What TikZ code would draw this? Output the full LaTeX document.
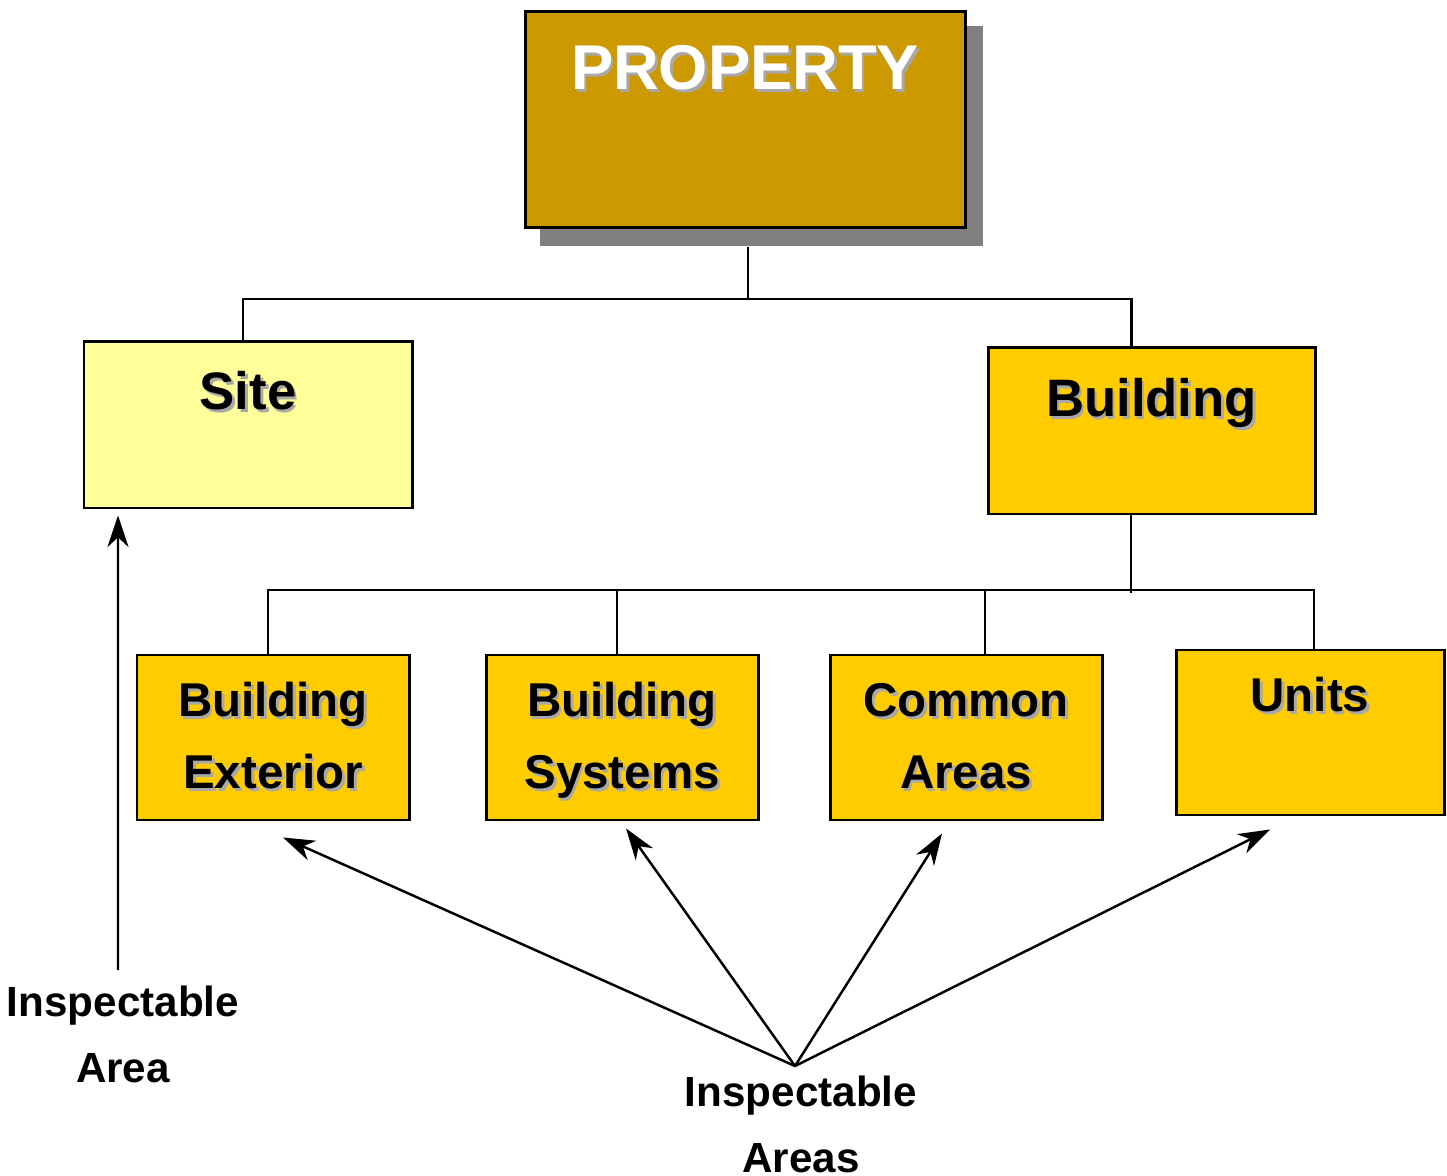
\documentclass[tikz,border=0pt]{standalone}
\usepackage{fontspec}
\setmainfont{Liberation Sans}
\usetikzlibrary{positioning,arrows.meta}
\definecolor{propgold}{HTML}{CC9900}
\definecolor{sitecream}{HTML}{FFFF99}
\definecolor{bldgyellow}{HTML}{FFCC00}
\definecolor{dropgray}{HTML}{808080}
\definecolor{textshade}{HTML}{A8A8A8}
\newcommand{\shadetext}[2][black]{\makebox[0pt][l]{\hspace{0.8pt}\raisebox{-0.8pt}{\textcolor{textshade}{#2}}}\textcolor{#1}{#2}}
\begin{document}
\begin{tikzpicture}[
	box/.style={draw, line width=0.85pt, inner sep=0pt, minimum width=#1, minimum height=1.65cm},
	boxlabel/.style={font=\bfseries\fontsize{13.5}{20.5}\selectfont, align=center, inner sep=0pt, anchor=base},
	arealabel/.style={font=\bfseries\fontsize{12}{18.5}\selectfont, align=center, inner sep=0pt, anchor=base},
	conn/.style={line width=0.7pt},
	pointer/.style={line width=0.7pt, -{Stealth[length=9pt, width=6pt, inset=2.8pt]}}
	]
	\useasboundingbox (0,0) rectangle (14.47,-11.76);
	\node [fill=dropgray, minimum width=4.43cm, minimum height=2.2cm, inner sep=0pt] (propshadow) at (7.615,-1.36) {};
	\node [box=4.40cm, minimum height=2.16cm, fill=propgold] (prop) at (7.45,-1.20) {};
	\node [box=3.28cm, minimum height=1.66cm, fill=sitecream] (site) at (2.48,-4.25) {};
	\node [box=3.27cm, minimum height=1.66cm, fill=bldgyellow] (bldg) at (11.515,-4.31) {};
	\node [box=2.72cm, fill=bldgyellow] (ext) at (2.73,-7.375) {};
	\node [box=2.72cm, fill=bldgyellow] (sys) at (6.22,-7.375) {};
	\node [box=2.72cm, fill=bldgyellow] (common) at (9.66,-7.375) {};
	\node [box=2.68cm, fill=bldgyellow] (units) at (13.10,-7.325) {};
	\node [boxlabel, font=\bfseries\fontsize{18}{22}\selectfont] (proptxt) at ([yshift=-0.79cm]prop.north) {\shadetext[white]{PROPERTY}};
	\node [boxlabel, font=\bfseries\fontsize{15}{20}\selectfont] (sitetxt) at ([yshift=-0.69cm]site.north) {\shadetext{Site}};
	\node [boxlabel, font=\bfseries\fontsize{15}{20}\selectfont] (bldgtxt) at ([yshift=-0.70cm]bldg.north) {\shadetext{Building}};
	\node [boxlabel] (exttxt) at ([yshift=-1.35cm]ext.north) {\shadetext{Building}\\\shadetext{Exterior}};
	\node [boxlabel] (systxt) at ([yshift=-1.35cm]sys.north) {\shadetext{Building}\\\shadetext{Systems}};
	\node [boxlabel] (commontxt) at ([yshift=-1.35cm]common.north) {\shadetext{Common}\\\shadetext{Areas}};
	\node [boxlabel] (unitstxt) at ([yshift=-0.63cm]units.north) {\shadetext{Units}};
	\coordinate (top) at (7.48,-2.99);
	\coordinate (mid) at (11.31,-5.90);
	\draw [conn] (propshadow.south -| top) -- (top);
	\draw [conn] (top) -| ([xshift=-0.05cm]site.north);
	\draw [conn] (top) -| ([xshift=-0.2cm]bldg.north);
	\draw [conn] (bldg.south -| mid) -- ([yshift=-0.03cm]mid);
	\draw [conn] (mid) -| ([xshift=-0.05cm]ext.north);
	\draw [conn] (mid) -| ([xshift=-0.05cm]sys.north);
	\draw [conn] (mid) -| ([xshift=0.19cm]common.north);
	\draw [conn] (mid) -| ([xshift=0.04cm]units.north);
	\coordinate (single) at (1.18,-9.70);
	\coordinate (many) at (7.95,-10.66);
	\node [arealabel] (singletxt) at (1.23,-10.82) {Inspectable\\Area};
	\node [arealabel] (manytxt) at (8.01,-11.72) {Inspectable\\Areas};
	\draw [pointer] (single) -- ([xshift=-1.30cm, yshift=-0.06cm]site.south);
	\draw [pointer] (many) -- ([xshift=0.10cm, yshift=-0.16cm]ext.south);
	\draw [pointer] (many) -- ([xshift=0.04cm, yshift=-0.07cm]sys.south);
	\draw [pointer] (many) -- ([xshift=-0.24cm, yshift=-0.12cm]common.south);
	\draw [pointer] (many) -- ([xshift=-0.40cm, yshift=-0.13cm]units.south);
\end{tikzpicture}
\end{document}
